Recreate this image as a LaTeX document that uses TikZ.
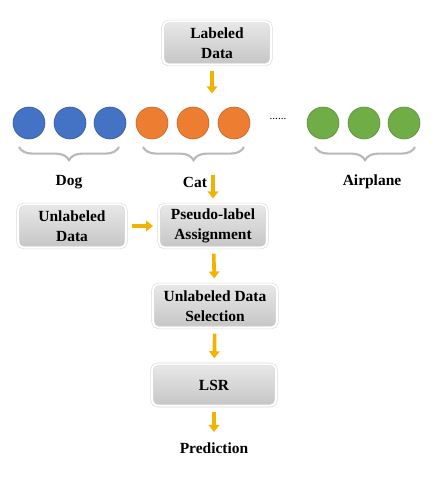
\documentclass[tikz,border=0pt]{standalone}
\usepackage{fontspec}
\setmainfont{Liberation Serif}
\usetikzlibrary{arrows.meta,decorations.pathreplacing,shadows}

\definecolor{dogblue}{RGB}{68,114,196}
\definecolor{catorange}{RGB}{237,125,49}
\definecolor{planegreen}{RGB}{112,173,71}
\definecolor{flowgold}{RGB}{242,178,0}

\tikzset{
  stepbox/.style={rounded corners=4pt, draw=gray!28, double=white,
    double distance=1.3pt, line width=0.45pt,
    top color=gray!18, bottom color=gray!45,
    drop shadow={opacity=0.2,shadow xshift=0.5pt,shadow yshift=-0.5pt},
    font=\bfseries\fontsize{11}{14}\selectfont, align=center,
    minimum width=2.7cm, minimum height=1.08cm},
  dot/.style={circle, inner sep=0pt, minimum size=0.8cm, line width=0.4pt},
  classbrace/.style={decorate, decoration={brace,mirror,amplitude=0.33cm},
    draw=gray!55, line width=1.5pt},
  classname/.style={font=\bfseries\fontsize{11}{14}\selectfont},
  flow/.style={draw=flowgold, line width=2.6pt,
    -{Triangle[width=7.5pt,length=5pt]}, shorten <=4pt, shorten >=4pt}
}

\begin{document}
\begin{tikzpicture}[x=0.025cm,y=-0.025cm]
   \useasboundingbox (0,0) rectangle (440,492) ;
   %\draw[very thin,gray,step=10] (0,0) grid (440,492) ;
   \node[stepbox] (labeled) at (217,43) {Labeled\\Data} ;
   % the three classes
   \foreach \i/\x in {1/29,2/70,3/110}
      \node[dot,fill=dogblue,draw=dogblue!80!black] (d\i) at (\x,123) {} ;
   \foreach \i/\x in {1/152,2/193,3/234}
      \node[dot,fill=catorange,draw=catorange!80!black] (c\i) at (\x,123) {} ;
   \foreach \i/\x in {1/323,2/364,3/404}
      \node[dot,fill=planegreen,draw=planegreen!80!black] (a\i) at (\x,123) {} ;
   \node[font=\fontsize{8}{9}\selectfont] (more) at (278,119) {......} ;
   \draw[classbrace] (19,147) -- (119,147) ;
   \draw[classbrace] (143,147) -- (244,147) ;
   \draw[classbrace] (315,147) -- (415,147) ;
   \node[classname] (dog) at (69,182) {Dog} ;
   \node[classname] (cat) at (195,182) {Cat} ;
   \node[classname] (plane) at (372,182) {Airplane} ;
   % pipeline
   \node[stepbox] (unlabeled) at (72,226) {Unlabeled\\Data} ;
   \node[stepbox] (pseudo) at (213,226) {Pseudo-label\\Assignment} ;
   \node[stepbox,minimum width=3.1cm] (select) at (215,306) {Unlabeled Data\\Selection} ;
   \node[stepbox,minimum width=3.1cm,minimum height=1.04cm] (lsr) at (214,385) {LSR} ;
   \node[classname] (predict) at (214,448) {Prediction} ;
   \coordinate (into) at (212,99) ;
   \coordinate (outof) at (213,169) ;
   \draw[flow] (into |- labeled.south) -- (into) ;
   \draw[flow] (outof) -- (pseudo) ;
   \draw[flow] (unlabeled) -- (pseudo) ;
   \draw[flow] (pseudo) -- (select) ;
   \draw[flow] (select) -- (lsr) ;
   \draw[flow] (lsr) -- (predict) ;
\end{tikzpicture}
\end{document}
